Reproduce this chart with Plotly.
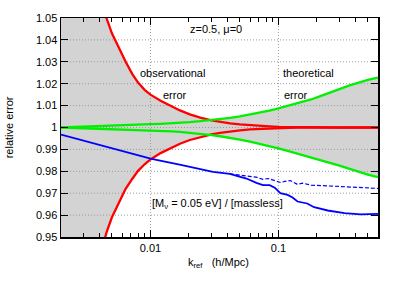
import numpy as np
import plotly.graph_objects as go

# ---------------- data ----------------
k_err = [0.002, 0.003, 0.004, 0.00453, 0.005, 0.0057, 0.0064, 0.0072, 0.008, 0.009,
         0.01, 0.012, 0.0147, 0.017, 0.0203, 0.0245, 0.03, 0.035, 0.042, 0.05,
         0.06, 0.07, 0.085, 0.1, 0.12, 0.147, 0.18, 0.21, 0.25, 0.3,
         0.36, 0.43, 0.5, 0.6]

obs_upper = [1.2, 1.10, 1.064, 1.05, 1.043, 1.036, 1.030, 1.0245, 1.0205, 1.0172,
             1.0150, 1.0122, 1.0096, 1.0078, 1.0060, 1.0045, 1.0033, 1.0026, 1.0019, 1.0014,
             1.0010, 1.0007, 1.0005, 1.0003, 1.0002, 1.0001, 1.0001, 1.0, 1.0, 1.0,
             1.0, 1.0, 1.0, 1.0]

obs_lower = [0.8, 0.905, 0.940, 0.952, 0.959, 0.966, 0.972, 0.9765, 0.9802, 0.9832,
             0.9854, 0.9883, 0.9909, 0.9926, 0.9943, 0.9957, 0.9969, 0.9975, 0.9982, 0.9987,
             0.9991, 0.9993, 0.9995, 0.9997, 0.9998, 0.9999, 0.9999, 1.0, 1.0, 1.0,
             1.0, 1.0, 1.0, 1.0]

theo_upper = [1.0, 1.0003, 1.0005, 1.0006, 1.0007, 1.0008, 1.0009, 1.0011, 1.0012, 1.0013,
              1.0015, 1.0017, 1.0019, 1.0022, 1.0025, 1.0029, 1.0034, 1.0038, 1.0044, 1.0051,
              1.0059, 1.0066, 1.0077, 1.0087, 1.0099, 1.0112, 1.0128, 1.0142, 1.0157, 1.0175,
              1.0192, 1.0207, 1.0217, 1.0228]

theo_lower = [1.0, 0.9997, 0.9995, 0.9994, 0.9993, 0.9992, 0.9991, 0.9990, 0.9989, 0.9988,
              0.9986, 0.9984, 0.9982, 0.9980, 0.9976, 0.9971, 0.9965, 0.9960, 0.9953, 0.9945,
              0.9935, 0.9927, 0.9915, 0.9905, 0.9892, 0.9878, 0.9863, 0.9852, 0.9840, 0.9826,
              0.9811, 0.9796, 0.9785, 0.9773]

k_ratio = [0.002, 0.005, 0.0102, 0.0169, 0.0308, 0.0417, 0.0563, 0.0673, 0.0758, 0.0855,
           0.0936, 0.1035, 0.118, 0.129, 0.141, 0.168, 0.19, 0.243, 0.328, 0.44, 0.6]
ratio_solid = [0.9968, 0.9904, 0.9857, 0.9830, 0.9797, 0.9788, 0.9767, 0.9747, 0.9737, 0.9737,
               0.9725, 0.9700, 0.9692, 0.9680, 0.9662, 0.9653, 0.9636, 0.9621, 0.9609, 0.9603, 0.9606]

k_ratio_dash = [0.0417, 0.0563, 0.067, 0.0758, 0.083, 0.091, 0.1035, 0.1146, 0.124, 0.141,
                0.154, 0.18, 0.243, 0.328, 0.47, 0.6]
ratio_dash = [0.9788, 0.9777, 0.9773, 0.9763, 0.9767, 0.9760, 0.9749, 0.9755, 0.9758, 0.9740,
              0.9746, 0.9737, 0.9733, 0.9730, 0.9725, 0.9722]

x_range = [0.002, 0.6]
y_range = [0.95, 1.05]
x_major = [0.01, 0.1]
x_major_text = ["0.01", "0.1"]
y_major = [0.95, 0.96, 0.97, 0.98, 0.99, 1.0, 1.01, 1.02, 1.03, 1.04, 1.05]
y_major_text = ["0.95", "0.96", "0.97", "0.98", "0.99", "1", "1.01", "1.02", "1.03", "1.04", "1.05"]
x_minor = [m * d for d in (0.001, 0.01, 0.1) for m in range(2, 10)
           if x_range[0] <= m * d <= x_range[1]]

FONT = "Liberation Sans, Arial, Helvetica, sans-serif"

# ---------------- figure ----------------
env_up = np.maximum(obs_upper, theo_upper)
env_lo = np.minimum(obs_lower, theo_lower)

fig = go.Figure()

fig.add_trace(go.Scatter(
    x=list(k_err) + list(k_err)[::-1],
    y=list(env_up) + list(env_lo)[::-1],
    fill="toself", fillcolor="#d3d3d3", line=dict(width=0),
    mode="lines", hoverinfo="skip", showlegend=False))

# grid lines (drawn above the shaded band, as in the original)
for yv in y_major[1:-1]:
    fig.add_trace(go.Scatter(x=x_range, y=[yv, yv], mode="lines",
                             line=dict(color="#9a9a9a", width=1, dash="1px,2px"),
                             hoverinfo="skip", showlegend=False))
for xv in x_major:
    fig.add_trace(go.Scatter(x=[xv, xv], y=y_range, mode="lines",
                             line=dict(color="#9a9a9a", width=1, dash="1px,2px"),
                             hoverinfo="skip", showlegend=False))

fig.add_trace(go.Scatter(x=k_err, y=obs_upper, mode="lines",
                         line=dict(color="#ff0000", width=2.3), showlegend=False))
fig.add_trace(go.Scatter(x=k_err, y=obs_lower, mode="lines",
                         line=dict(color="#ff0000", width=2.3), showlegend=False))
fig.add_trace(go.Scatter(x=k_err, y=theo_upper, mode="lines",
                         line=dict(color="#00f000", width=2.3), showlegend=False))
fig.add_trace(go.Scatter(x=k_err, y=theo_lower, mode="lines",
                         line=dict(color="#00f000", width=2.3), showlegend=False))
fig.add_trace(go.Scatter(x=k_ratio_dash, y=ratio_dash, mode="lines",
                         line=dict(color="#0000ff", width=1.2, dash="4px,2px"), showlegend=False))
fig.add_trace(go.Scatter(x=k_ratio, y=ratio_solid, mode="lines",
                         line=dict(color="#0000ff", width=1.8), showlegend=False))

txt = dict(family=FONT, size=11, color="#000000")
ann = [
    dict(text="z=0.5, μ=0", x=0.4006, y=0.9485),
    dict(text="observational", x=0.2429, y=0.7472),
    dict(text="error", x=0.3155, y=0.6488),
    dict(text="theoretical", x=0.694, y=0.7472),
    dict(text="error", x=0.697, y=0.6488),
    dict(text="[M<sub>ν</sub> = 0.05 eV] / [massless]", x=0.2808, y=0.1521),
]
for a in ann:
    fig.add_annotation(text=a["text"], x=a["x"], y=a["y"], xref="paper", yref="paper",
                       xanchor="left", yanchor="middle", showarrow=False, font=txt)

fig.add_annotation(text="k<sub>ref</sub>   (h/Mpc)", x=0.498, y=-0.121, xref="paper", yref="paper",
                   xanchor="center", yanchor="middle", showarrow=False, font=txt)
fig.add_annotation(text="relative error", x=-0.164, y=0.501, xref="paper", yref="paper",
                   xanchor="center", yanchor="middle", textangle=-90, showarrow=False, font=txt)

fig.update_xaxes(type="log", range=[np.log10(x_range[0]), np.log10(x_range[1])],
                 tickvals=x_major, ticktext=x_major_text, ticks="inside", ticklen=7,
                 tickcolor="#000", showgrid=False, zeroline=False,
                 showline=True, linecolor="#000", linewidth=1.5, mirror="ticks",
                 tickfont=dict(family=FONT, size=11, color="#000"),
                 minor=dict(tickvals=x_minor, ticks="inside", ticklen=4, tickcolor="#000",
                            showgrid=False))
fig.update_yaxes(range=y_range, tickvals=y_major, ticktext=y_major_text,
                 ticks="inside", ticklen=7, tickcolor="#000", showgrid=False, zeroline=False,
                 showline=True, linecolor="#000", linewidth=1.5, mirror="ticks",
                 tickfont=dict(family=FONT, size=11, color="#000"))

fig.update_layout(width=398, height=284, margin=dict(l=61, r=20, t=13, b=47),
                  paper_bgcolor="#fff", plot_bgcolor="#fff", showlegend=False,
                  font=dict(family=FONT))

# remove the browser's default 8px body margin so the figure sits at the page origin
fig.write_html("out.html",
               config={"displayModeBar": False, "staticPlot": True},
               post_script="document.body.style.margin='0';document.body.style.overflow='hidden';")
